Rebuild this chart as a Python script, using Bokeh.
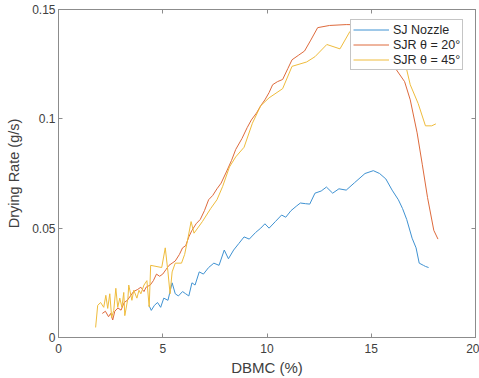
from bokeh.plotting import figure
from bokeh.models import LinearAxis, Range1d, FixedTicker, Legend, LegendItem, CustomJSTickFormatter
from bokeh.embed import file_html
from bokeh.resources import INLINE

# SJ Nozzle
sj_x = [4.34, 4.45, 4.6, 4.75, 4.9, 5.05, 5.25, 5.45, 5.6, 5.75, 5.95, 6.1, 6.25, 6.4, 6.55,
        6.75, 6.95, 7.2, 7.45, 7.7, 7.95, 8.15, 8.4, 8.65, 8.9, 9.15, 9.45, 9.7, 9.9, 10.1,
        10.4, 10.7, 10.9, 11.15, 11.4, 11.6, 11.85, 12.05, 12.3, 12.6, 12.85, 13.15, 13.45,
        13.8, 14.2, 14.7, 15.1, 15.4, 15.7, 16.0, 16.3, 16.5, 16.7, 16.96, 17.15, 17.3, 17.5,
        17.6, 17.75]
sj_y = [0.0147, 0.0124, 0.0147, 0.016, 0.0138, 0.018, 0.017, 0.025, 0.020, 0.019, 0.021,
        0.020, 0.019, 0.025, 0.024, 0.030, 0.029, 0.032, 0.034, 0.033, 0.040, 0.036, 0.040,
        0.043, 0.046, 0.045, 0.048, 0.050, 0.052, 0.050, 0.053, 0.056, 0.055, 0.058, 0.060,
        0.0615, 0.0612, 0.061, 0.066, 0.067, 0.0688, 0.066, 0.068, 0.0674, 0.0708, 0.075,
        0.0763, 0.075, 0.0725, 0.0674, 0.063, 0.059, 0.054, 0.0454, 0.041, 0.034, 0.033,
        0.0325, 0.032]

# SJR theta = 20
r20_x = [2.1, 2.25, 2.4, 2.5, 2.6, 2.7, 2.85, 3.0, 3.15, 3.3, 3.45, 3.6, 3.8, 3.95, 4.1, 4.2,
         4.4, 4.55, 4.7, 4.85, 5.0, 5.15, 5.3, 5.45, 5.6, 5.8, 5.95, 6.1, 6.25, 6.4, 6.6, 6.8,
         7.0, 7.2, 7.4, 7.6, 7.8, 8.05, 8.3, 8.5, 8.8, 9.05, 9.25, 9.5, 9.7, 9.9, 10.1, 10.27,
         10.5, 10.75, 11.0, 11.2, 11.5, 11.8, 12.1, 12.43, 13.0, 13.8, 14.5, 15.2, 15.8, 16.2,
         16.6, 16.87, 17.2, 17.45, 17.7, 18.0, 18.2]
r20_y = [0.011, 0.012, 0.0095, 0.011, 0.008, 0.012, 0.0135, 0.0125, 0.016, 0.017, 0.019,
         0.021, 0.022, 0.023, 0.021, 0.023, 0.024, 0.026, 0.029, 0.028, 0.029, 0.031, 0.033,
         0.034, 0.035, 0.038, 0.041, 0.042, 0.046, 0.049, 0.052, 0.054, 0.058, 0.063, 0.065,
         0.068, 0.0706, 0.0757, 0.081, 0.086, 0.091, 0.096, 0.0995, 0.1027, 0.106, 0.1087,
         0.112, 0.1156, 0.117, 0.118, 0.123, 0.127, 0.129, 0.131, 0.136, 0.1417, 0.1427,
         0.1431, 0.143, 0.141, 0.133, 0.1225, 0.117, 0.1087, 0.0936, 0.079, 0.064, 0.049, 0.045]

# SJR theta = 45
r45_x = [1.78, 1.88, 2.02, 2.17, 2.27, 2.36, 2.46, 2.55, 2.65, 2.75, 2.84, 2.94, 3.04, 3.13,
         3.18, 3.33, 3.37, 3.52, 3.61, 3.76, 3.86, 3.95, 4.1, 4.24, 4.35, 4.42, 4.95, 5.12,
         5.25, 5.35, 5.45, 5.6, 5.9, 6.05, 6.2, 6.36, 6.5, 6.9, 7.3, 7.6, 7.87, 8.2, 8.5, 8.9,
         9.3, 9.7, 10.1, 10.75, 11.2, 11.9, 12.3, 12.87, 13.5, 13.98, 14.55, 15.3, 16.0, 16.7,
         16.87, 17.25, 17.6, 17.9, 18.1]
r45_y = [0.0046, 0.0147, 0.016, 0.0138, 0.0193, 0.0133, 0.020, 0.0092, 0.0124, 0.0225,
         0.0138, 0.018, 0.0138, 0.0206, 0.010, 0.018, 0.024, 0.017, 0.0216, 0.018, 0.0216,
         0.020, 0.024, 0.026, 0.014, 0.033, 0.032, 0.041, 0.030, 0.020, 0.030, 0.034, 0.034,
         0.038, 0.045, 0.053, 0.0477, 0.053, 0.059, 0.063, 0.069, 0.078, 0.0826, 0.087, 0.098,
         0.106, 0.1096, 0.1138, 0.124, 0.126, 0.1284, 0.134, 0.132, 0.140, 0.145, 0.141,
         0.132, 0.1225, 0.1156, 0.107, 0.0968, 0.0968, 0.0977]

x_ticks = [0, 5, 10, 15, 20]
y_ticks = [0, 0.05, 0.1, 0.15]
y_tick_labels = {0: "0", 0.05: "0.05", 0.1: "0.1", 0.15: "0.15"}

FONT = "Liberation Sans"
AXIS_COL = "#8c8c8c"
TEXT_COL = "#404040"

p = figure(width=479, height=378, output_backend="svg", toolbar_location=None,
           x_range=Range1d(0, 20), y_range=Range1d(0, 0.15),
           min_border_left=58, min_border_right=4, min_border_top=9, min_border_bottom=40)
p.xgrid.visible = False
p.ygrid.visible = False
p.outline_line_color = AXIS_COL
p.background_fill_color = "white"
p.border_fill_color = "white"

r1 = p.line(sj_x, sj_y, line_color="#3f92d2", line_width=1)
r2 = p.line(r20_x, r20_y, line_color="#de6a3c", line_width=1)
r3 = p.line(r45_x, r45_y, line_color="#efbc3c", line_width=1)

def style(ax, labels=True):
    ax.axis_line_color = AXIS_COL
    ax.major_tick_line_color = AXIS_COL
    ax.major_tick_in = 4
    ax.major_tick_out = 0
    ax.minor_tick_in = 0
    ax.minor_tick_out = 0
    ax.minor_tick_line_color = None
    ax.major_label_text_font = FONT
    ax.major_label_text_font_size = "12px"
    ax.major_label_text_color = TEXT_COL
    ax.axis_label_text_font = FONT
    ax.axis_label_text_font_size = "15px"
    ax.axis_label_text_color = TEXT_COL
    ax.axis_label_text_font_style = "normal"
    if not labels:
        ax.formatter = CustomJSTickFormatter(code="return ''")
        ax.major_label_text_font_size = "0px"
        ax.major_label_text_color = None
        ax.major_label_standoff = 0
        ax.axis_label = None
        ax.axis_label_standoff = 0

xa = p.xaxis[0]
xa.ticker = FixedTicker(ticks=x_ticks)
xa.axis_label = "DBMC (%)"
style(xa)
xa.major_label_standoff = 6
xa.axis_label_standoff = 3

ya = p.yaxis[0]
ya.ticker = FixedTicker(ticks=y_ticks)
ya.major_label_overrides = y_tick_labels
ya.axis_label = "Drying Rate (g/s)"
style(ya)
ya.axis_label_text_font_size = "14.5px"
ya.major_label_standoff = 3
ya.axis_label_standoff = 7

top = LinearAxis(ticker=FixedTicker(ticks=x_ticks))
style(top, labels=False)
p.add_layout(top, "above")
right = LinearAxis(ticker=FixedTicker(ticks=y_ticks))
style(right, labels=False)
p.add_layout(right, "right")

legend = Legend(items=[
    LegendItem(label="SJ Nozzle", renderers=[r1]),
    LegendItem(label="SJR \u03b8 = 20\u00b0", renderers=[r2]),
    LegendItem(label="SJR \u03b8 = 45\u00b0", renderers=[r3]),
], location=(292, 267))
legend.label_text_font = FONT
legend.label_text_font_size = "12.5px"
legend.label_text_color = "#262626"
legend.border_line_color = AXIS_COL
legend.border_line_width = 1
legend.background_fill_color = "white"
legend.background_fill_alpha = 1
legend.glyph_width = 36
legend.glyph_height = 15
legend.label_height = 15
legend.label_standoff = 4
legend.spacing = 0
legend.padding = 2
legend.margin = 0
p.add_layout(legend, "center")

open("out.html", "w").write(file_html(p, INLINE))
